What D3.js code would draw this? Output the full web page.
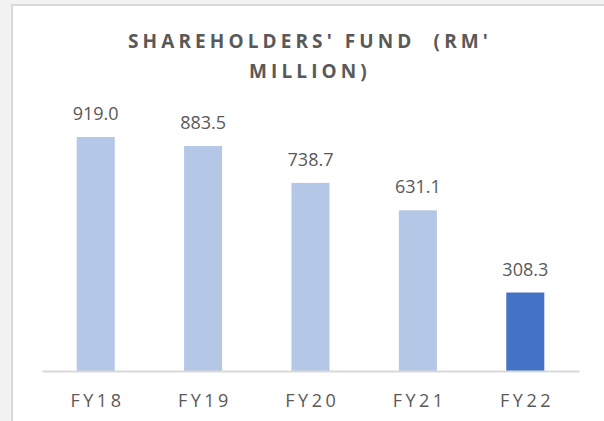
<!DOCTYPE html>
<html><head><meta charset="utf-8">
<script src="https://cdn.jsdelivr.net/npm/d3@7"></script>
<style>
html,body{margin:0;padding:0;background:#f2f2f2;}
svg{display:block;}
text{font-family:"Open Sans",sans-serif;}
</style></head>
<body>
<script>
const categories = ["FY18","FY19","FY20","FY21","FY22"];
const values = [919.0, 883.5, 738.7, 631.1, 308.3];
const labels = ["919.0","883.5","738.7","631.1","308.3"];
const titleLines = ["SHAREHOLDERS' FUND  (RM'", "MILLION)"];

const W = 604, H = 421;
const svg = d3.select("body").append("svg").attr("width", W).attr("height", H);

// panel
svg.append("rect").attr("x",0).attr("y",0).attr("width",W).attr("height",H).attr("fill","#f2f2f2");
svg.append("rect").attr("x",11).attr("y",4).attr("width",W).attr("height",H).attr("fill","#d9d9d9");
svg.append("rect").attr("x",13).attr("y",6).attr("width",W).attr("height",H).attr("fill","#ffffff");

const x = d3.scaleBand().domain(categories).range([42,579]).paddingInner(0.646).paddingOuter(0.323);
const y = d3.scaleLinear().domain([0,1000]).range([371, 371-254.6]);

// title
svg.append("g").selectAll("text").data(titleLines).join("text")
  .attr("x", 310).attr("y", (d,i)=> i===0 ? 47.5 : 78)
  .attr("text-anchor","middle")
  .style("white-space","pre")
  .attr("font-size", 19).attr("font-weight","bold")
  .attr("letter-spacing", 4.1)
  .attr("fill","#595959")
  .text(d=>d);

// bars
svg.append("g").selectAll("rect").data(values).join("rect")
  .attr("x",(d,i)=>x(categories[i]))
  .attr("y",d=>y(d))
  .attr("width",x.bandwidth())
  .attr("height",d=>y(0)-y(d))
  .attr("fill",(d,i)=> i===values.length-1 ? "#4472c4" : "#b4c7e7");

// data labels
svg.append("g").selectAll("text").data(values).join("text")
  .attr("x",(d,i)=>x(categories[i])+x.bandwidth()/2)
  .attr("y",d=>y(d)-17)
  .attr("text-anchor","middle")
  .attr("font-size",18)
  .attr("fill","#595959")
  .text((d,i)=>labels[i]);

// axis
const axis = d3.axisBottom(x).tickSize(0).tickPadding(0);
const ag = svg.append("g").attr("transform","translate(0,371)").call(axis);
ag.select(".domain").attr("stroke","#d9d9d9").attr("stroke-width",2);
ag.selectAll(".tick text")
  .attr("y",36).attr("dy",0)
  .attr("dx", 1.75)
  .attr("font-size",18)
  .attr("font-family","'Open Sans',sans-serif")
  .attr("letter-spacing",3.5)
  .attr("fill","#595959");
</script>
</body></html>
